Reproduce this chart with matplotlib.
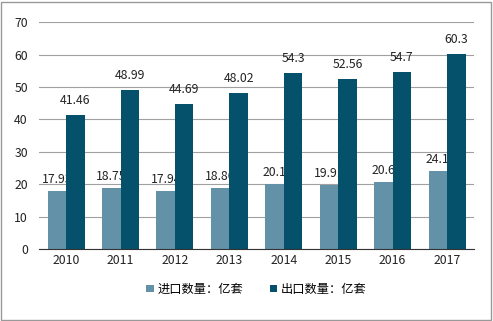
import numpy as np
from matplotlib import pyplot as plt
from matplotlib.patches import Rectangle

plt.rcParams['font.family'] = ['Noto Sans CJK SC', 'DejaVu Sans']

years = ['2010', '2011', '2012', '2013', '2014', '2015', '2016', '2017']
imports = [17.93, 18.75, 17.94, 18.86, 20.1, 19.91, 20.6, 24.1]
exports = [41.46, 48.99, 44.69, 48.02, 54.3, 52.56, 54.7, 60.3]
import_labels = ['17.93', '18.75', '17.94', '18.86', '20.1', '19.91', '20.6', '24.1']
export_labels = ['41.46', '48.99', '44.69', '48.02', '54.3', '52.56', '54.7', '60.3']

c_imp = '#6391a8'
c_exp = '#05506b'

fig = plt.figure(figsize=(4.93, 3.21), dpi=100)
ax = fig.add_axes([0.079, 0.224, 0.883, 0.707])

x = np.arange(len(years))
w = 0.34
ax.bar(x - w / 2, imports, w, color=c_imp, zorder=2, label='进口数量：亿套')
ax.bar(x + w / 2, exports, w, color=c_exp, zorder=4, label='出口数量：亿套')

# 数据标签（进口标签被出口柱遮住一部分）
for i in range(len(years)):
    ax.text(x[i] - w / 2, imports[i] + 3.5, import_labels[i], ha='center', va='center',
            fontsize=8.8, color='#222222', zorder=3)
    ax.text(x[i] + w / 2, exports[i] + 4.5, export_labels[i], ha='center', va='center',
            fontsize=8.8, color='#222222', zorder=5)

ax.set_ylim(0, 70)
ax.set_yticks(range(0, 71, 10))
ax.set_xlim(-0.5, len(years) - 0.5)
ax.set_xticks(x)
ax.set_xticklabels(years)
ax.tick_params(axis='both', labelsize=8.8, length=0, colors='#222222')
ax.tick_params(axis='y', pad=8)
ax.grid(axis='y', color='#a0a0a0', linewidth=0.8, zorder=0)
ax.set_axisbelow(True)
for s in ['top', 'right', 'left']:
    ax.spines[s].set_visible(False)
ax.spines['bottom'].set_color('#333333')
ax.spines['bottom'].set_zorder(6)

ax.legend(loc='upper center', bbox_to_anchor=(0.5, -0.1), ncol=2, frameon=False,
          fontsize=8.8, handlelength=0.6, handleheight=0.6, handletextpad=0.3,
          columnspacing=2.2)

# 外框
fig.patches.append(Rectangle((0.002, 0.003), 0.994, 0.992, transform=fig.transFigure,
                             fill=False, edgecolor='#999999', linewidth=1))

fig.savefig('out.png', dpi=100)
